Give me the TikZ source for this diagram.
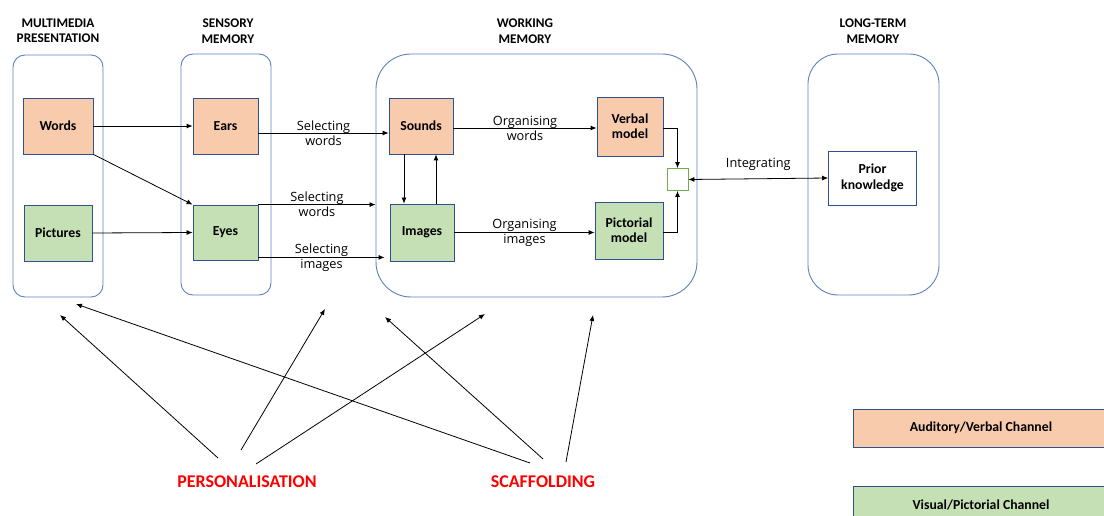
\documentclass[tikz,border=0pt]{standalone}
\usepackage{fontspec}
\setmainfont{Carlito}
\newfontfamily\labelfont{Open Sans}
\usetikzlibrary{arrows.meta,positioning}

\definecolor{verbalfill}{HTML}{F8CBAD}
\definecolor{visualfill}{HTML}{C5E0B4}
\definecolor{boxline}{HTML}{2F528F}
\definecolor{storeline}{HTML}{5F7FC2}
\definecolor{joinline}{HTML}{70AD47}

\begin{document}
\begin{tikzpicture}[%
    x=1bp, y=-1bp,
    >={Latex[length=6bp,width=5bp]},
    every node/.style={inner sep=0pt},
    store/.style={draw=storeline, line width=0.9bp, rounded corners=12bp},
    title/.style={font=\bfseries\fontsize{13.3}{15.5}\selectfont, align=center},
    item/.style={draw=boxline, line width=0.8bp, font=\bfseries\fontsize{13.8}{15.5}\selectfont, align=center},
    verbal/.style={item, fill=verbalfill},
    visual/.style={item, fill=visualfill},
    lbl/.style={font=\labelfont\fontsize{12.8}{15}\selectfont, align=center},
    strategy/.style={text=red, font=\bfseries\fontsize{18}{20}\selectfont},
    link/.style={->, line width=0.8bp}
    ]

    \useasboundingbox (0,0) rectangle (1104,516);

    % memory stores
    \node[store, minimum width=90bp, minimum height=242bp] (mp) at (58,176) {};
    \node[store, minimum width=90bp, minimum height=241bp] (sm) at (226,174.5) {};
    \node[store, rounded corners=35bp, minimum width=321bp, minimum height=243bp] (wm) at (536.5,175.5) {};
    \node[store, rounded corners=30bp, minimum width=131bp, minimum height=241bp] (ltm) at (873.5,174.5) {};

    \node[title] (mptitle) at (58,31) {MULTIMEDIA\\PRESENTATION};
    \node[title] (smtitle) at (228,31) {SENSORY\\MEMORY};
    \node[title] (wmtitle) at (525,31) {WORKING\\MEMORY};
    \node[title] (ltmtitle) at (873,31) {LONG-TERM\\MEMORY};

    % boxes
    \node[verbal, minimum width=70bp, minimum height=56bp] (words) at (58,126) {Words};
    \node[visual, minimum width=68bp, minimum height=56bp] (pictures) at (58,233) {Pictures};
    \node[verbal, minimum width=65bp, minimum height=56bp] (ears) at (225.5,126) {Ears};
    \node[visual, minimum width=65bp, minimum height=55bp] (eyes) at (225.5,232.5) {Eyes};
    \node[verbal, minimum width=64bp, minimum height=56bp] (sounds) at (421,126) {Sounds};
    \node[visual, minimum width=64bp, minimum height=57bp] (images) at (422,232.5) {Images};
    \node[verbal, minimum width=66bp, minimum height=59bp] (verbalmodel) at (630,126.5) {Verbal\\model};
    \node[visual, minimum width=68bp, minimum height=57bp] (pictorialmodel) at (629,230.5) {Pictorial\\model};
    \node[draw=joinline, line width=0.8bp, fill=white, minimum width=21bp, minimum height=22bp] (join) at (677.5,179.5) {};
    \node[item, fill=white, minimum width=88bp, minimum height=54bp] (prior) at (872.5,178) {Prior\\knowledge};

    % legend
    \node[verbal, minimum width=256bp, minimum height=38bp] (auditory) at (981,428) {Auditory/Verbal Channel};
    \node[visual, minimum width=256bp, minimum height=38bp] (visualch) at (981,505) {Visual/Pictorial Channel};

    \node[strategy] (personal) at (247,482) {PERSONALISATION};
    \node[strategy] (scaffold) at (543,482) {SCAFFOLDING};

    \path[link] (words.east) edge (ears.west);
    \path[link] (words.south east) edge (eyes.north west);
    \path[link] (pictures.east) edge (eyes.west);

    \path[link] ([yshift=-7bp]ears.east) edge node[lbl] {Selecting\\words} ([yshift=-7bp]sounds.west);
    \path[link] (eyes.north east) edge node[lbl] {Selecting\\words} (eyes.north east -| wm.west);
    \path[link] ([yshift=3bp]eyes.south east) edge node[lbl] {Selecting\\images} ([xshift=9bp,yshift=3bp]eyes.south east -| wm.west);

    \path[link] ([yshift=-2bp]sounds.east) edge node[lbl] {Organising\\words} ([yshift=-2bp]sounds.east -| verbalmodel.west);
    \path[link] (images.east) edge node[lbl] {Organising\\images} (images.east -| pictorialmodel.west);
    \path[link] ([xshift=-17bp]sounds.south) edge ([xshift=-17bp]sounds.south |- images.north);
    \path[link] ([xshift=15bp]sounds.south |- images.north) edge ([xshift=15bp]sounds.south);

    \draw[link] ([yshift=-1.5bp]verbalmodel.east) -| (join.north);
    \draw[link] ([yshift=-1.5bp]pictorialmodel.east) -| (join.south);
    \path[<->, line width=0.8bp] (join.east) edge node[lbl, above=8bp] {Integrating} (prior.west);

    % instructional strategies
    \coordinate (pt1) at (218,458);
    \coordinate (pt2) at (241,450);
    \coordinate (pt3) at (256,464);
    \coordinate (st1) at (530,463);
    \coordinate (st2) at (543,459);
    \coordinate (st3) at (566,462);
    \coordinate (ph1) at (60,315);
    \coordinate (ph2) at (325,309);
    \coordinate (ph3) at (485,314);
    \coordinate (sh1) at (76,304);
    \coordinate (sh2) at (385,317);
    \coordinate (sh3) at (593,315);

    \path[link] (pt1) edge (ph1);
    \path[link] (pt2) edge (ph2);
    \path[link] (pt3) edge (ph3);
    \path[link] (st1) edge (sh1);
    \path[link] (st2) edge (sh2);
    \path[link] (st3) edge (sh3);

    \end{tikzpicture}
\end{document}
